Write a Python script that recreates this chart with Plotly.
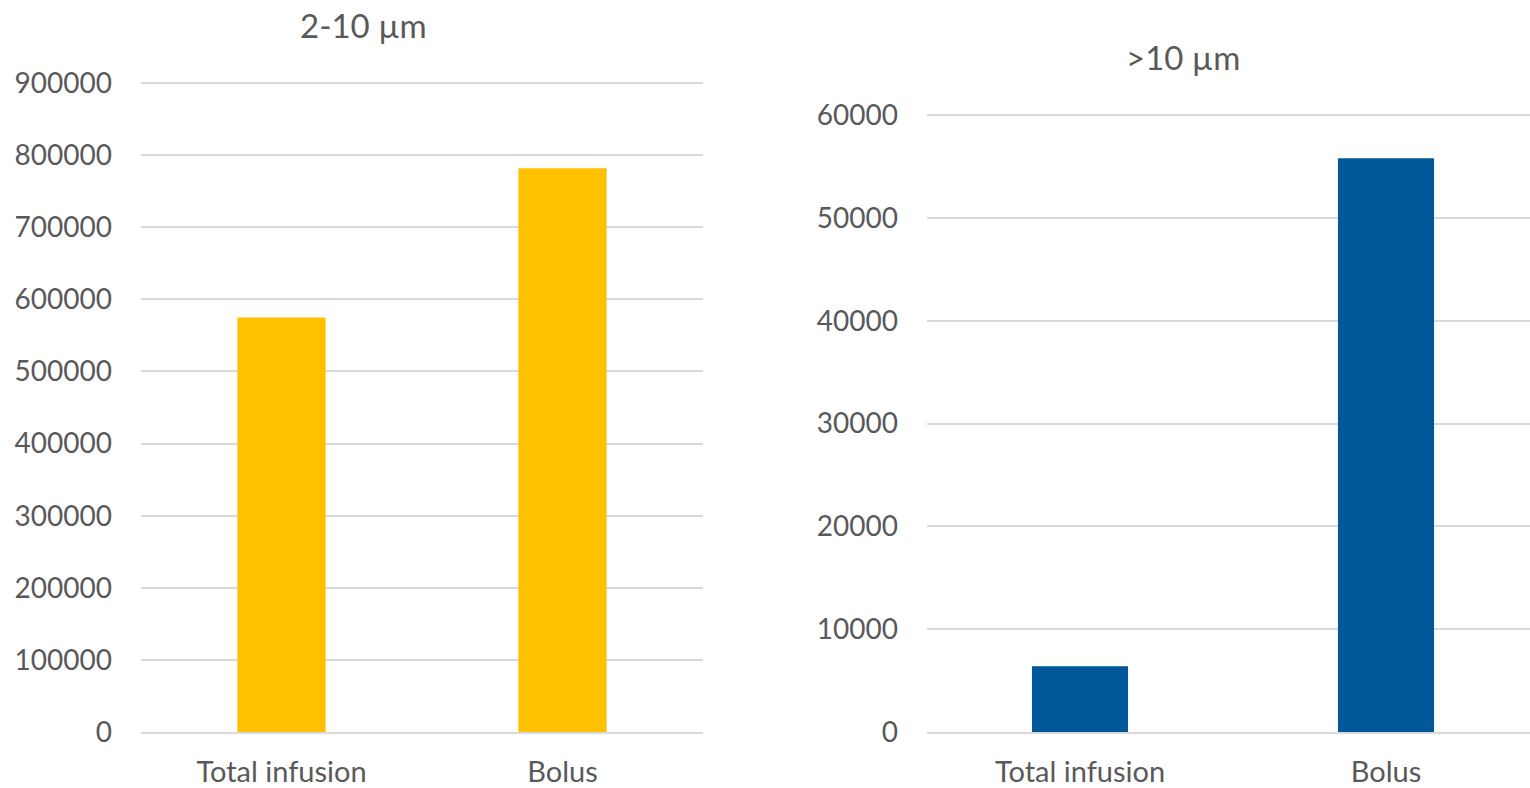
import plotly.graph_objects as go

# Particle counts by administration mode, two size classes
categories = ["Total infusion", "Bolus"]
counts_2_10 = [575000, 782000]
counts_over_10 = [6400, 55800]

title_left = "2-10 µm"
title_right = ">10 µm"

FONT = "Lato, 'Open Sans', sans-serif"
TEXT = "#595959"
GRID = "#d9d9d9"

fig = go.Figure()
fig.add_trace(go.Bar(x=categories, y=counts_2_10, marker_color="#FFC000",
                     marker_line_width=0, xaxis="x", yaxis="y", showlegend=False))
fig.add_trace(go.Bar(x=categories, y=counts_over_10, marker_color="#00589B",
                     marker_line_width=0, xaxis="x2", yaxis="y2", showlegend=False))

W, H = 1530, 788
y0 = (H - 732) / H

ytick_font = dict(family=FONT, size=28, color=TEXT)
xtick_font = dict(family=FONT, size=29, color=TEXT)

fig.update_layout(
    width=W, height=H,
    margin=dict(l=0, r=0, t=0, b=0, autoexpand=False),
    paper_bgcolor="white", plot_bgcolor="white",
    bargap=0.686,
    xaxis=dict(domain=[141 / W, 703 / W], range=[-0.5, 1.5], showline=True,
               linecolor=GRID, linewidth=2, showgrid=False, tickfont=xtick_font,
               ticks="", ticklabelstandoff=13, automargin=False, fixedrange=True),
    yaxis=dict(domain=[y0, (H - 82) / H], range=[0, 901500], dtick=100000,
               gridcolor=GRID, gridwidth=2, zeroline=False, showline=False,
               tickfont=ytick_font, tickformat="d", ticks="",
               ticklabelstandoff=28, automargin=False, anchor="x"),
    xaxis2=dict(domain=[927 / W, 1.0], range=[-0.5, 1.5 - 9 / 306], showline=True,
                linecolor=GRID, linewidth=2, showgrid=False, tickfont=xtick_font,
                ticks="", ticklabelstandoff=13, automargin=False, anchor="y2"),
    yaxis2=dict(domain=[y0, (H - 114) / H], range=[0, 60100], dtick=10000,
                gridcolor=GRID, gridwidth=2, zeroline=False, showline=False,
                tickfont=ytick_font, tickformat="d", ticks="",
                ticklabelstandoff=28, automargin=False, anchor="x2"),
    annotations=[
        dict(text=title_left, x=363 / W, y=(H - 25) / H, xref="paper", yref="paper",
             showarrow=False, xanchor="center", yanchor="middle",
             font=dict(family=FONT, size=33, color=TEXT)),
        dict(text=title_right, x=1183 / W, y=(H - 57) / H, xref="paper", yref="paper",
             showarrow=False, xanchor="center", yanchor="middle",
             font=dict(family=FONT, size=33, color=TEXT)),
    ],
)

fig.write_html("out.html")
